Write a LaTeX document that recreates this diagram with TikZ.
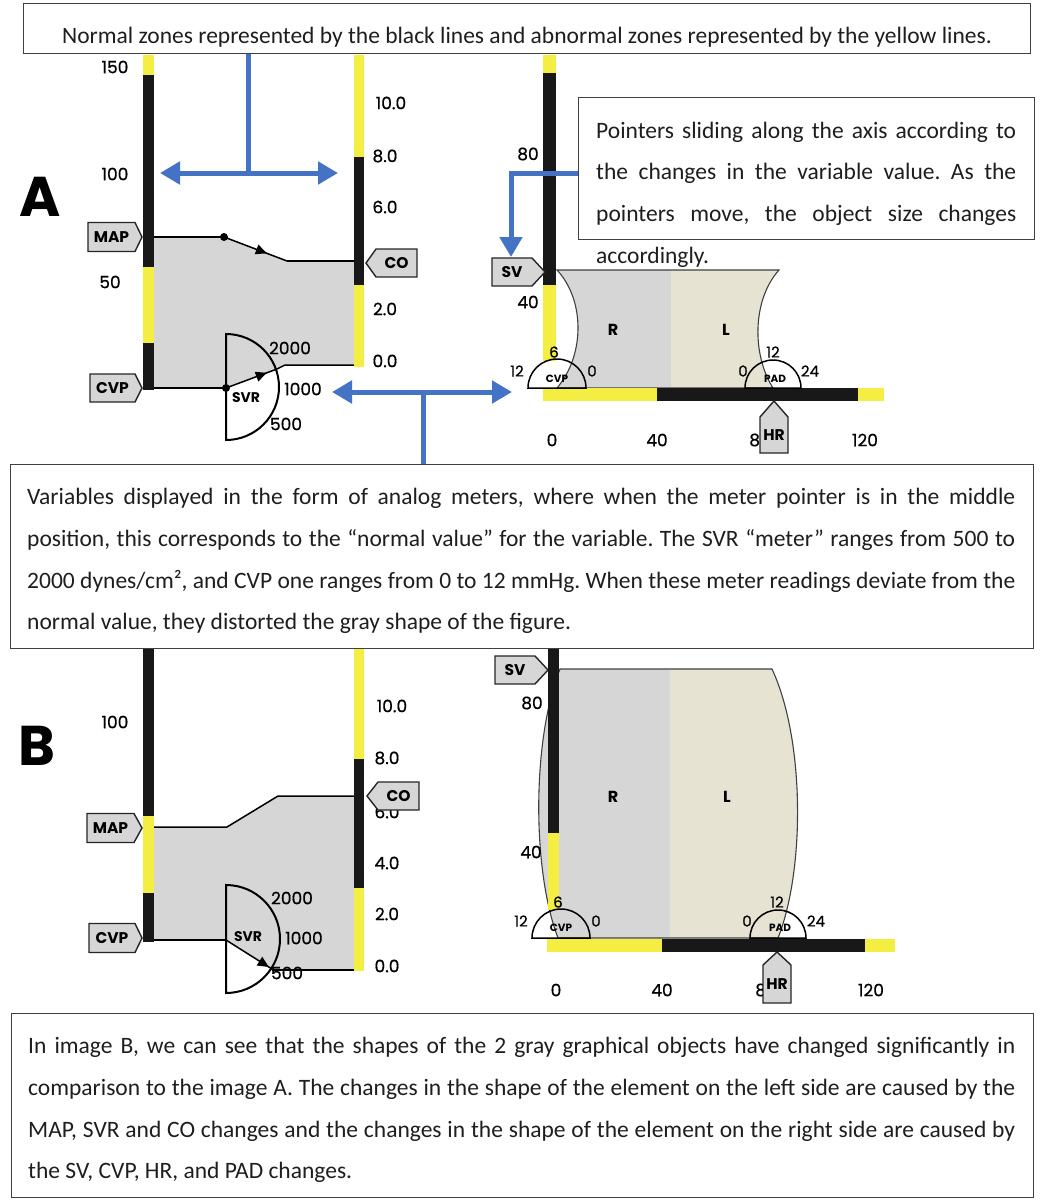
\documentclass[tikz,border=0pt]{standalone}
\usepackage{fontspec}
\setmainfont{Carlito}
\newfontfamily\labfont{Poppins}
\newfontfamily\labmed{Poppins}[FakeBold=0.6]
\usetikzlibrary{arrows.meta,decorations.markings}
\definecolor{barY}{RGB}{244,238,66}
\definecolor{barK}{RGB}{24,24,24}
\definecolor{shapeG}{RGB}{214,214,214}
\definecolor{shapeL}{RGB}{230,227,211}
\definecolor{blueC}{RGB}{68,114,196}
\definecolor{ptrF}{RGB}{214,214,214}
\definecolor{boxC}{RGB}{64,64,64}
\definecolor{txtC}{RGB}{30,30,30}
\frenchspacing
\tikzset{
  yzone/.style={fill=barY},
  kzone/.style={fill=barK},
  ptrsty/.style={draw=black!85, fill=ptrF, line width=1.4pt, line join=miter},
  ptrlab/.style={font=\labfont\bfseries\fontsize{15.5}{15.5}\selectfont, inner sep=0},
  ticklab/.style={font=\labmed\fontsize{17}{17}\selectfont, inner sep=0},
  mnum/.style={font=\labmed\fontsize{15}{15}\selectfont, inner sep=0},
  mname/.style={font=\labfont\bfseries\fontsize{10.5}{10.5}\selectfont, inner sep=0},
  biglab/.style={font=\labfont\bfseries\fontsize{14}{14}\selectfont, inner sep=0},
  rllab/.style={font=\labfont\bfseries\fontsize{16}{16}\selectfont, inner sep=0},
  edge/.style={draw=black, line width=1.5pt},
  meterline/.style={draw=black, line width=2pt},
  heartline/.style={draw=black!75, line width=1.1pt},
  bluline/.style={draw=blueC, line width=5pt},
  bluarr/.style={draw=blueC, line width=5pt, -{Triangle[length=20pt,width=22pt]}},
  bludbl/.style={draw=blueC, line width=5pt, {Triangle[length=20pt,width=22pt]}-{Triangle[length=20pt,width=22pt]}},
  tbox/.style={draw=boxC, line width=1.4pt, anchor=north west, inner sep=0},
  para/.style={font=\fontsize{23.5}{28}\selectfont, text=txtC, inner sep=0, anchor=base west},
  midarrow/.style={postaction={decorate}, decoration={markings, mark=at position #1 with {\arrow{Triangle[length=11pt,width=10pt]}}}}
}
\newcommand\ptrR[7]{%
  \draw[ptrsty] (#4,{#3-#6}) -- (#5,{#3-#6}) -- (#2,#3) -- (#5,{#3+#6}) -- (#4,{#3+#6}) -- cycle;
  \node[ptrlab] (#1) at ({(#4+#5)/2},#3) {#7};}
\newcommand\ptrL[7]{%
  \draw[ptrsty] (#2,#3) -- (#4,{#3-#6}) -- (#5,{#3-#6}) -- (#5,{#3+#6}) -- (#4,{#3+#6}) -- cycle;
  \node[ptrlab] (#1) at ({(#4+#5)/2},#3) {#7};}
\newcommand\ptrU[7]{%
  \draw[ptrsty] (#2,#3) -- ({#2+#6},#4) -- ({#2+#6},#5) -- ({#2-#6},#5) -- ({#2-#6},#4) -- cycle;
  \node[ptrlab] (#1) at (#2,{(#4+#5)/2}) {#7};}
\begin{document}
\begin{tikzpicture}[x=1pt,y=-1pt]
\useasboundingbox (0,0) rectangle (1055,1200);
\fill[white] (0,0) rectangle (1055,1200);

% ================= Panel A, left =================
\fill[white] (226,334) arc[start angle=-90,end angle=90,radius=53] -- cycle;
\fill[shapeG] (149,237) -- (224,237) -- (287,261) -- (359,261) -- (359,365) -- (285,365) -- (277,369) -- (226,388) -- (149,388) -- cycle;
\draw[edge] (149,237) -- (224,237);
\draw[edge, midarrow=0.68] (224,237) -- (287,261);
\draw[edge] (287,261) -- (358,261);
\draw[edge] (358,365) -- (285,365) -- (277,369);
\draw[edge] (149,388) -- (226,388);
\draw[edge, midarrow=0.8] (226,388) -- (277,369);
% bars
\path[yzone] (143,55) rectangle (154,75);
\path[kzone] (143,75) rectangle (154,267);
\path[yzone] (143,267) rectangle (154,343);
\path[kzone] (143,343) rectangle (154,390);
\path[yzone] (354,55) rectangle (364,157);
\path[kzone] (354,157) rectangle (364,285);
\path[yzone] (354,285) rectangle (364,367);
\draw[meterline] (226,334) arc[start angle=-90,end angle=90,radius=53] -- cycle;
\fill (224,237) circle[radius=4];
\fill (226,388) circle[radius=4];
% labels
\node[ticklab] (a150) at (115,67) {150};
\node[ticklab] (a100) at (115,174) {100};
\node[ticklab] (a50) at (110,282) {50};
\node[ticklab] (a10) at (391,103) {10.0};
\node[ticklab] (a8) at (385,156) {8.0};
\node[ticklab] (a6) at (385,207) {6.0};
\node[ticklab] (a2) at (385,309) {2.0};
\node[ticklab] (a0) at (385,361) {0.0};
\node[ticklab] (as2000) at (290,348) {2000};
\node[ticklab] (as1000) at (303,389) {1000};
\node[ticklab] (as500) at (286,424) {500};
\node[biglab] (asvr) at (246,398) {SVR};
\ptrR{amap}{142}{237}{88}{135}{14.5}{MAP}
\ptrR{acvp}{142}{388}{90}{135}{14}{CVP}
\ptrL{aco}{366}{263}{376}{417}{14}{CO}
\node[font=\labfont\bfseries\fontsize{56}{56}\selectfont, inner sep=0] (labA) at (40,197) {A};

% ================= Panel A, right =================
\fill[white] (528,388) arc[start angle=180,end angle=360,radius=29] -- cycle;
\fill[white] (745,388) arc[start angle=180,end angle=360,radius=28] -- cycle;
\begin{scope}
\clip (557,270) -- (779,270) .. controls (752,300) and (752,355) .. (773,388) -- (557,388) .. controls (585,355) and (585,300) .. (557,270) -- cycle;
\fill[shapeG] (540,260) rectangle (671,400);
\fill[shapeL] (671,260) rectangle (800,400);
\end{scope}
\draw[heartline] (557,270) -- (779,270) .. controls (752,300) and (752,355) .. (773,388) -- (557,388) .. controls (585,355) and (585,300) .. (557,270) -- cycle;
\path[yzone] (543,55) rectangle (556,73);
\path[kzone] (543,73) rectangle (556,285);
\path[yzone] (543,285) rectangle (556,361);
\path[yzone] (543,388) rectangle (657,401);
\path[kzone] (657,388) rectangle (858,401);
\path[yzone] (858,388) rectangle (884,401);
\draw[meterline, line width=1.5pt] (528,388) arc[start angle=180,end angle=360,radius=29] -- cycle;
\draw[meterline, line width=1.5pt] (745,388) arc[start angle=180,end angle=360,radius=28] -- cycle;
\node[ticklab] (ar80) at (528,154) {80};
\node[ticklab] (ar40) at (528,302) {40};
\node[ticklab] (ah0) at (552,440) {0};
\node[ticklab] (ah40) at (657,440) {40};
\node[ticklab] (ah80) at (760,440) {80};
\node[ticklab] (ah120) at (865,440) {120};
\node[mnum] (ac12) at (517,371) {12};
\node[mnum] (ac6) at (554,352) {6};
\node[mnum] (ac0) at (592,371) {0};
\node[mname] (acvpm) at (557,379) {CVP};
\node[mnum] (ap12) at (773,352) {12};
\node[mnum] (ap0) at (743,371) {0};
\node[mnum] (ap24) at (810,371) {24};
\node[mname] (apad) at (775,379) {PAD};
\node[rllab] (aR) at (613,330) {R};
\node[rllab] (aL) at (726,330) {L};
\ptrR{asv}{545}{272}{492}{532}{14}{SV}
\ptrU{ahr}{774}{401}{417}{453}{14}{HR}

% ================= Panel B, left =================
\fill[white] (226,885) arc[start angle=-90,end angle=90,radius=54] -- cycle;
\fill[shapeG] (149,827) -- (227,827) -- (278,796) -- (359,796) -- (359,970) -- (272,970) -- (226,940) -- (149,940) -- cycle;
\draw[edge] (149,827) -- (227,827) -- (278,796) -- (358,796);
\draw[edge] (358,970) -- (272,970);
\draw[edge] (149,940) -- (226,940);
\draw[edge, midarrow=0.93] (226,940) -- (272,969);
\path[kzone] (143,648) rectangle (154,816);
\path[yzone] (143,816) rectangle (154,893);
\path[kzone] (143,893) rectangle (154,942);
\path[yzone] (354,648) rectangle (364,759);
\path[kzone] (354,759) rectangle (364,888);
\path[yzone] (354,888) rectangle (364,971);
\draw[meterline] (226,885) arc[start angle=-90,end angle=90,radius=54] -- cycle;
\node[ticklab] (b100) at (115,722) {100};
\node[ticklab] (b10) at (392,706) {10.0};
\node[ticklab] (b8) at (387,758) {8.0};
\node[ticklab] (b6) at (387,812) {6.0};
\node[ticklab] (b4) at (387,863) {4.0};
\node[ticklab] (b2) at (387,914) {2.0};
\node[ticklab] (b0) at (387,966) {0.0};
\node[ticklab] (bs2000) at (292,898) {2000};
\node[ticklab] (bs1000) at (304,938) {1000};
\node[ticklab] (bs500) at (287,973) {500};
\node[biglab] (bsvr) at (248,937) {SVR};
\ptrR{bmap}{142}{828}{87}{134}{14.5}{MAP}
\ptrR{bcvp}{142}{938}{89}{135}{14.5}{CVP}
\ptrL{bco}{367}{796}{378}{419}{14}{CO}
\node[font=\labfont\bfseries\fontsize{56}{56}\selectfont, inner sep=0] (labB) at (37,746) {B};

% ================= Panel B, right =================
\fill[white] (532,938) arc[start angle=180,end angle=360,radius=29] -- cycle;
\fill[white] (750,938) arc[start angle=180,end angle=360,radius=28] -- cycle;
\begin{scope}
\clip (560,669) -- (772,669) .. controls (805,740) and (805,870) .. (778,938) -- (558,938) .. controls (532,870) and (532,740) .. (560,669) -- cycle;
\fill[shapeG] (520,660) rectangle (670,945);
\fill[shapeL] (670,660) rectangle (820,945);
\end{scope}
\draw[heartline] (560,669) -- (772,669) .. controls (805,740) and (805,870) .. (778,938) -- (558,938) .. controls (532,870) and (532,740) .. (560,669) -- cycle;
\path[kzone] (548,648) rectangle (559,833);
\path[yzone] (548,833) rectangle (559,910);
\path[yzone] (547,939) rectangle (662,952);
\path[kzone] (662,939) rectangle (865,952);
\path[yzone] (865,939) rectangle (895,952);
\draw[meterline, line width=1.5pt] (532,938) arc[start angle=180,end angle=360,radius=29] -- cycle;
\draw[meterline, line width=1.5pt] (750,938) arc[start angle=180,end angle=360,radius=28] -- cycle;
\node[ticklab] (br80) at (532,703) {80};
\node[ticklab] (br40) at (531,852) {40};
\node[ticklab] (bh0) at (556,990) {0};
\node[ticklab] (bh40) at (662,990) {40};
\node[ticklab] (bh80) at (766,990) {80};
\node[ticklab] (bh120) at (871,990) {120};
\node[mnum] (bc12) at (521,921) {12};
\node[mnum] (bc6) at (558,902) {6};
\node[mnum] (bc0) at (596,921) {0};
\node[mname] (bcvpm) at (561,928) {CVP};
\node[mnum] (bp12) at (777,902) {12};
\node[mnum] (bp0) at (747,921) {0};
\node[mnum] (bp24) at (816,921) {24};
\node[mname] (bpad) at (780,928) {PAD};
\node[rllab] (bR) at (613,797) {R};
\node[rllab] (bL) at (727,797) {L};
\ptrR{bsv}{548}{670}{495}{535}{14}{SV}
\ptrU{bhr}{777}{952}{965}{1003}{14}{HR}

% ================= Text boxes =================
\node[tbox, minimum width=1007, minimum height=50] (topbox) at (23,3) {};
\node[font=\fontsize{23.5}{28}\selectfont, text=txtC, inner sep=0, anchor=base] (toptext) at (527,43) {Normal zones represented by the black lines and abnormal zones represented by the yellow lines.};

\node[tbox, minimum width=456, minimum height=142] (ptrbox) at (578,97) {};
\node[para] (p1) at (596,138) {\makebox[420pt][s]{Pointers sliding along the axis according to}};
\node[para] (p2) at (596,179) {\makebox[420pt][s]{the changes in the variable value. As the}};
\node[para] (p3) at (596,221) {\makebox[420pt][s]{pointers move, the object size changes}};
\node[para] (p4) at (596,263) {accordingly.};

\node[tbox, minimum width=1023, minimum height=184] (midbox) at (10,464) {};
\node[para] (m1) at (27,504) {\makebox[988pt][s]{Variables displayed in the form of analog meters, where when the meter pointer is in the middle}};
\node[para] (m2) at (27,546) {\makebox[988pt][s]{position, this corresponds to the “normal value” for the variable. The SVR “meter” ranges from 500 to}};
\node[para] (m3) at (27,588) {\makebox[988pt][s]{2000 dynes/cm², and CVP one ranges from 0 to 12 mmHg. When these meter readings deviate from the}};
\node[para] (m4) at (27,629) {normal value, they distorted the gray shape of the figure.};

\node[tbox, minimum width=1022, minimum height=184] (botbox) at (11,1013) {};
\node[para] (q1) at (28,1053) {\makebox[987pt][s]{In image B, we can see that the shapes of the 2 gray graphical objects have changed significantly in}};
\node[para] (q2) at (28,1095) {\makebox[987pt][s]{comparison to the image A. The changes in the shape of the element on the left side are caused by the}};
\node[para] (q3) at (28,1137) {\makebox[987pt][s]{MAP, SVR and CO changes and the changes in the shape of the element on the right side are caused by}};
\node[para] (q4) at (28,1178) {the SV, CVP, HR, and PAD changes.};

% ================= Blue connectors =================
\coordinate (j1) at (248,173);
\coordinate (l1) at (160,173);
\coordinate (r1) at (338,173);
\draw[bluline] (topbox.south -| j1) -- (j1);
\draw[bludbl] (l1) -- (r1);

\coordinate (j2) at (423,392);
\coordinate (l2) at (332,392);
\coordinate (r2) at (512,392);
\draw[bluline] (midbox.north -| j2) -- (j2);
\draw[bludbl] (l2) -- (r2);

\coordinate (k3) at (511,173);
\coordinate (t3) at (511,257);
\draw[bluarr] (ptrbox.west |- k3) -- (k3) -- (t3);
\end{tikzpicture}
\end{document}
